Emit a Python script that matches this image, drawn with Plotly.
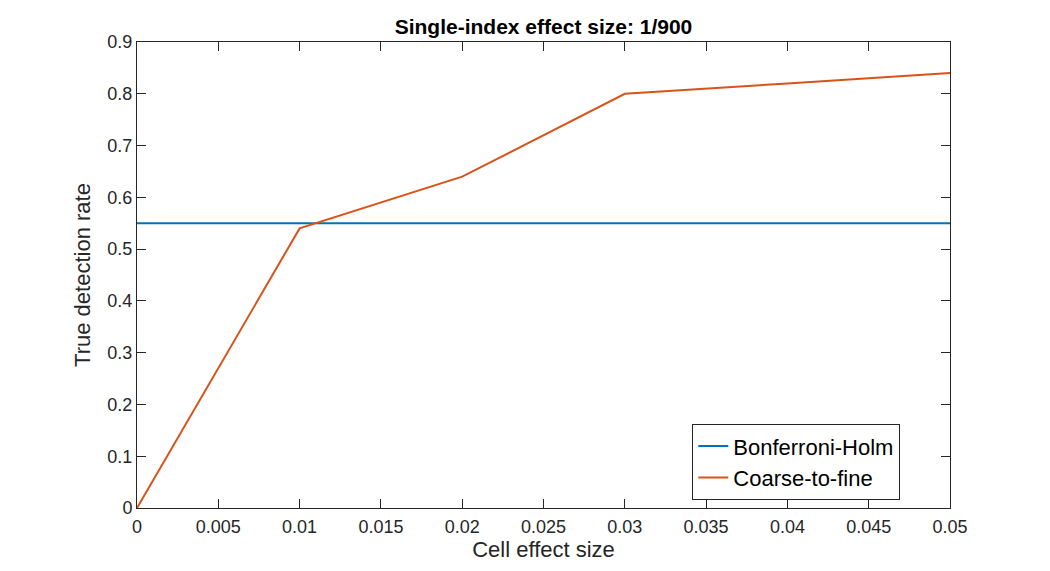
import plotly.graph_objects as go

# Data
cell_effect = [0, 0.01, 0.02, 0.03, 0.04, 0.05]
coarse_to_fine = [0.0, 0.54, 0.64, 0.80, 0.82, 0.84]
bonf_x = [0, 0.05]
bonf_y = [0.55, 0.55]

x_ticks = [0, 0.005, 0.01, 0.015, 0.02, 0.025, 0.03, 0.035, 0.04, 0.045, 0.05]
x_labels = ["0", "0.005", "0.01", "0.015", "0.02", "0.025", "0.03", "0.035", "0.04", "0.045", "0.05"]
y_ticks = [0, 0.1, 0.2, 0.3, 0.4, 0.5, 0.6, 0.7, 0.8, 0.9]
y_labels = ["0", "0.1", "0.2", "0.3", "0.4", "0.5", "0.6", "0.7", "0.8", "0.9"]

FONT = "Liberation Sans, Arial, Helvetica, sans-serif"
AX = "#262626"

fig = go.Figure()
fig.add_trace(go.Scatter(x=bonf_x, y=bonf_y, mode="lines", name="Bonferroni-Holm",
                         line=dict(color="#0072BD", width=2)))
fig.add_trace(go.Scatter(x=cell_effect, y=coarse_to_fine, mode="lines", name="Coarse-to-fine",
                         line=dict(color="#D95319", width=2)))

axis_common = dict(
    showgrid=False, zeroline=False, showline=True, linecolor=AX, linewidth=1,
    mirror="ticks", ticks="inside", ticklen=9, tickwidth=1, tickcolor=AX,
    tickfont=dict(family=FONT, size=18, color=AX),
)

fig.update_layout(
    width=1050, height=571,
    margin=dict(l=129, r=108, t=34, b=71),
    paper_bgcolor="white", plot_bgcolor="white",
    title=dict(text="<b>Single-index effect size: 1/900</b>",
               font=dict(family=FONT, size=21, color="black"),
               x=(129 + 942) / 2 / 1050, xanchor="center",
               y=1 - 19 / 571, yanchor="middle", yref="container"),
    xaxis=dict(range=[0, 0.05], tickvals=x_ticks, ticktext=x_labels,
               ticklabelstandoff=2,
               title=dict(text="Cell effect size", font=dict(family=FONT, size=22, color=AX), standoff=1),
               **axis_common),
    yaxis=dict(range=[0, 0.9], tickvals=y_ticks, ticktext=y_labels,
               title=dict(text="True detection rate", font=dict(family=FONT, size=22, color=AX), standoff=10),
               **axis_common),
    legend=dict(x=0.683, y=0.18, xanchor="left", yanchor="top",
                bgcolor="white", bordercolor=AX, borderwidth=1,
                font=dict(family=FONT, size=22, color="black"),
                tracegroupgap=0, itemwidth=30),
    showlegend=True,
)

fig.write_html("out.html")
